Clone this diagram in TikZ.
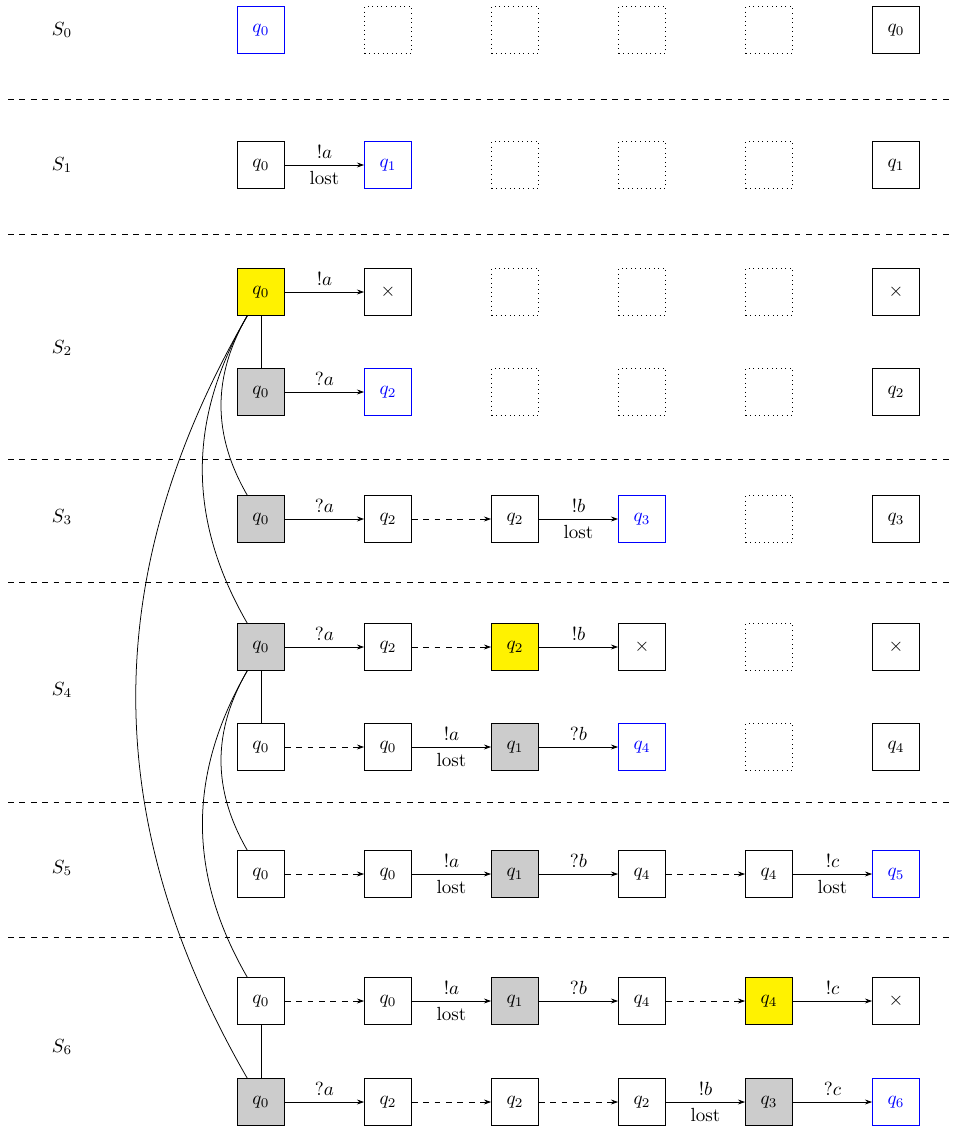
\documentclass[tikz,border=0pt]{standalone}
\usetikzlibrary{arrows.meta}
\begin{document}
\begin{tikzpicture}[x=0.5262pt,y=0.5262pt,
  box/.style={draw,line width=0.4pt,minimum width=24.7pt,minimum height=24.7pt,inner sep=0pt},
  cur/.style={box,draw=blue,text=blue},
  emp/.style={box,dotted},
  yel/.style={box,fill=yellow},
  gry/.style={box,fill=black!20},
  tr/.style={-{Stealth[length=3.8pt,width=2.6pt]},line width=0.4pt},
  dtr/.style={tr,dashed},
  sep/.style={dashed,line width=0.4pt},
  lnk/.style={line width=0.4pt},
  slab/.style={inner sep=0pt}]
\useasboundingbox (0,0) rectangle (952,-1127);
% separators
\coordinate (l1a) at (8,-99);   \coordinate (l1b) at (952,-99);
\coordinate (l2a) at (8,-234);  \coordinate (l2b) at (952,-234);
\coordinate (l3a) at (8,-459);  \coordinate (l3b) at (952,-459);
\coordinate (l4a) at (8,-582);  \coordinate (l4b) at (952,-582);
\coordinate (l5a) at (8,-802);  \coordinate (l5b) at (952,-802);
\coordinate (l6a) at (8,-937);  \coordinate (l6b) at (952,-937);
\foreach \i in {1,...,6} \draw[sep] (l\i a) -- (l\i b);
% state labels
\node[slab] (s0) at (62,-30) {$S_0$};
\node[slab] (s1) at (62,-165) {$S_1$};
\node[slab] (s2) at (62,-348) {$S_2$};
\node[slab] (s3) at (62,-517) {$S_3$};
\node[slab] (s4) at (62,-690) {$S_4$};
\node[slab] (s5) at (62,-868) {$S_5$};
\node[slab] (s6) at (62,-1047) {$S_6$};
% S0
\node[cur] (a1) at (261,-30) {$q_0$};
\node[emp] (a2) at (388,-30) {};
\node[emp] (a3) at (515,-30) {};
\node[emp] (a4) at (642,-30) {};
\node[emp] (a5) at (769,-30) {};
\node[box] (a6) at (896,-30) {$q_0$};
% S1
\node[box] (b1) at (261,-165) {$q_0$};
\node[cur] (b2) at (388,-165) {$q_1$};
\node[emp] (b3) at (515,-165) {};
\node[emp] (b4) at (642,-165) {};
\node[emp] (b5) at (769,-165) {};
\node[box] (b6) at (896,-165) {$q_1$};
\draw[tr] (b1) -- node[above] {$!a$} node[below] {lost} (b2);
% S2
\node[yel] (c1) at (261,-292) {$q_0$};
\node[box] (c2) at (388,-292) {$\times$};
\node[emp] (c3) at (515,-292) {};
\node[emp] (c4) at (642,-292) {};
\node[emp] (c5) at (769,-292) {};
\node[box] (c6) at (896,-292) {$\times$};
\draw[tr] (c1) -- node[above] {$!a$} (c2);
\node[gry] (d1) at (261,-392) {$q_0$};
\node[cur] (d2) at (388,-392) {$q_2$};
\node[emp] (d3) at (515,-392) {};
\node[emp] (d4) at (642,-392) {};
\node[emp] (d5) at (769,-392) {};
\node[box] (d6) at (896,-392) {$q_2$};
\draw[tr] (d1) -- node[above] {$?a$} (d2);
\draw[lnk] (c1) -- (d1);
% S3
\node[gry] (e1) at (261,-519) {$q_0$};
\node[box] (e2) at (388,-519) {$q_2$};
\node[box] (e3) at (515,-519) {$q_2$};
\node[cur] (e4) at (642,-519) {$q_3$};
\node[emp] (e5) at (769,-519) {};
\node[box] (e6) at (896,-519) {$q_3$};
\draw[tr] (e1) -- node[above] {$?a$} (e2);
\draw[dtr] (e2) -- (e3);
\draw[tr] (e3) -- node[above] {$!b$} node[below] {lost} (e4);
% S4
\node[gry] (f1) at (261,-647) {$q_0$};
\node[box] (f2) at (388,-647) {$q_2$};
\node[yel] (f3) at (515,-647) {$q_2$};
\node[box] (f4) at (642,-647) {$\times$};
\node[emp] (f5) at (769,-647) {};
\node[box] (f6) at (896,-647) {$\times$};
\draw[tr] (f1) -- node[above] {$?a$} (f2);
\draw[dtr] (f2) -- (f3);
\draw[tr] (f3) -- node[above] {$!b$} (f4);
\node[box] (g1) at (261,-747) {$q_0$};
\node[box] (g2) at (388,-747) {$q_0$};
\node[gry] (g3) at (515,-747) {$q_1$};
\node[cur] (g4) at (642,-747) {$q_4$};
\node[emp] (g5) at (769,-747) {};
\node[box] (g6) at (896,-747) {$q_4$};
\draw[dtr] (g1) -- (g2);
\draw[tr] (g2) -- node[above] {$!a$} node[below] {lost} (g3);
\draw[tr] (g3) -- node[above] {$?b$} (g4);
\draw[lnk] (f1) -- (g1);
% S5
\node[box] (h1) at (261,-874) {$q_0$};
\node[box] (h2) at (388,-874) {$q_0$};
\node[gry] (h3) at (515,-874) {$q_1$};
\node[box] (h4) at (642,-874) {$q_4$};
\node[box] (h5) at (769,-874) {$q_4$};
\node[cur] (h6) at (896,-874) {$q_5$};
\draw[dtr] (h1) -- (h2);
\draw[tr] (h2) -- node[above] {$!a$} node[below] {lost} (h3);
\draw[tr] (h3) -- node[above] {$?b$} (h4);
\draw[dtr] (h4) -- (h5);
\draw[tr] (h5) -- node[above] {$!c$} node[below] {lost} (h6);
% S6
\node[box] (i1) at (261,-1001) {$q_0$};
\node[box] (i2) at (388,-1001) {$q_0$};
\node[gry] (i3) at (515,-1001) {$q_1$};
\node[box] (i4) at (642,-1001) {$q_4$};
\node[yel] (i5) at (769,-1001) {$q_4$};
\node[box] (i6) at (896,-1001) {$\times$};
\draw[dtr] (i1) -- (i2);
\draw[tr] (i2) -- node[above] {$!a$} node[below] {lost} (i3);
\draw[tr] (i3) -- node[above] {$?b$} (i4);
\draw[dtr] (i4) -- (i5);
\draw[tr] (i5) -- node[above] {$!c$} (i6);
\node[gry] (j1) at (261,-1102) {$q_0$};
\node[box] (j2) at (388,-1102) {$q_2$};
\node[box] (j3) at (515,-1102) {$q_2$};
\node[box] (j4) at (642,-1102) {$q_2$};
\node[gry] (j5) at (769,-1102) {$q_3$};
\node[cur] (j6) at (896,-1102) {$q_6$};
\draw[tr] (j1) -- node[above] {$?a$} (j2);
\draw[dtr] (j2) -- (j3);
\draw[dtr] (j3) -- (j4);
\draw[tr] (j4) -- node[above] {$!b$} node[below] {lost} (j5);
\draw[tr] (j5) -- node[above] {$?c$} (j6);
\draw[lnk] (i1) -- (j1);
% links between states
\draw[lnk] (c1.240) to[out=240,in=120] (e1.120);
\draw[lnk] (c1.240) to[out=240,in=120] (f1.120);
\draw[lnk] (c1.240) to[out=240,in=120] (j1.120);
\draw[lnk] (f1.240) to[out=240,in=120] (h1.120);
\draw[lnk] (f1.240) to[out=240,in=120] (i1.120);
\end{tikzpicture}
\end{document}
